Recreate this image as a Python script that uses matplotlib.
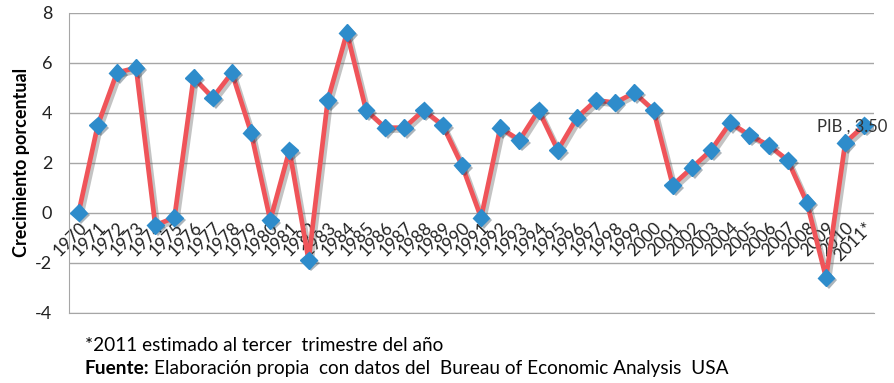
import matplotlib
matplotlib.use('Agg')
from matplotlib import pyplot as plt
import matplotlib.patheffects as pe

plt.rcParams['font.family'] = ['Lato', 'DejaVu Sans']

years = ['1970', '1971', '1972', '1973', '1974', '1975', '1976', '1977', '1978', '1979',
         '1980', '1981', '1982', '1983', '1984', '1985', '1986', '1987', '1988', '1989',
         '1990', '1991', '1992', '1993', '1994', '1995', '1996', '1997', '1998', '1999',
         '2000', '2001', '2002', '2003', '2004', '2005', '2006', '2007', '2008', '2009',
         '2010', '2011*']
pib = [0.0, 3.5, 5.6, 5.8, -0.5, -0.2, 5.4, 4.6, 5.6, 3.2,
       -0.3, 2.5, -1.9, 4.5, 7.2, 4.1, 3.4, 3.4, 4.1, 3.5,
       1.9, -0.2, 3.4, 2.9, 4.1, 2.5, 3.8, 4.5, 4.4, 4.8,
       4.1, 1.1, 1.8, 2.5, 3.6, 3.1, 2.7, 2.1, 0.4, -2.6,
       2.8, 3.5]
yticks = [-4, -2, 0, 2, 4, 6, 8]

fig = plt.figure(figsize=(8.94, 3.83), dpi=100)
ax = fig.add_axes([0.0772, 0.1836, 0.9004, 0.7832])

x = list(range(len(years)))
shadow = [pe.SimpleLineShadow(offset=(2, -2), alpha=0.35, shadow_color='#555555'), pe.Normal()]
ax.plot(x, pib, color='#EF5459', lw=3.4, zorder=3, path_effects=shadow, solid_joinstyle='round')
ax.plot(x, pib, ls='none', marker='D', ms=8.5, color='#2E8CCB', mec='#2E8CCB', zorder=4,
        path_effects=[pe.SimplePatchShadow(offset=(2, -2), alpha=0.35), pe.Normal()])

ax.set_xlim(-0.5, len(years) - 0.5)
ax.set_ylim(-4, 8)
ax.set_yticks(yticks)
ax.set_yticklabels([str(v) for v in yticks], fontsize=13, color='#222222')
ax.tick_params(axis='y', length=0, pad=12)
ax.set_xticks([])
ax.grid(axis='y', color='#A6A6A6', lw=1)
ax.set_axisbelow(True)
for s in ['top', 'right']:
    ax.spines[s].set_visible(False)
ax.spines['left'].set_color('#A6A6A6')
ax.spines['bottom'].set_color('#A6A6A6')

# year labels sit along the zero line
for i, lab in enumerate(years):
    ax.text(i + 0.3, -0.5, lab, rotation=45, rotation_mode='anchor',
            ha='right', va='center', fontsize=12.5, color='#222222', zorder=2)

# data label on the last point
ax.text(38.55, pib[-1] - 0.05, 'PIB , %.2f' % pib[-1], fontsize=12,
        color='#333333', va='center', ha='left', zorder=5, clip_on=False)

fig.text(0.0235, 0.5757, 'Crecimiento porcentual', rotation=90, fontsize=13,
         fontweight='bold', ha='center', va='center')

fig.text(0.095, 0.0992, '*2011 estimado al tercer  trimestre del año', fontsize=13.7,
         ha='left', va='center')
fuente = fig.text(0.095, 0.039, 'Fuente:', fontsize=13.7, fontweight='bold', ha='left', va='center')
r = fig.canvas.get_renderer()
w = fuente.get_window_extent(r).width / fig.bbox.width
fig.text(0.095 + w + 0.005, 0.039,
         'Elaboración propia  con datos del  Bureau of Economic Analysis  USA',
         fontsize=13.7, ha='left', va='center')

fig.savefig('out.png', dpi=100)
